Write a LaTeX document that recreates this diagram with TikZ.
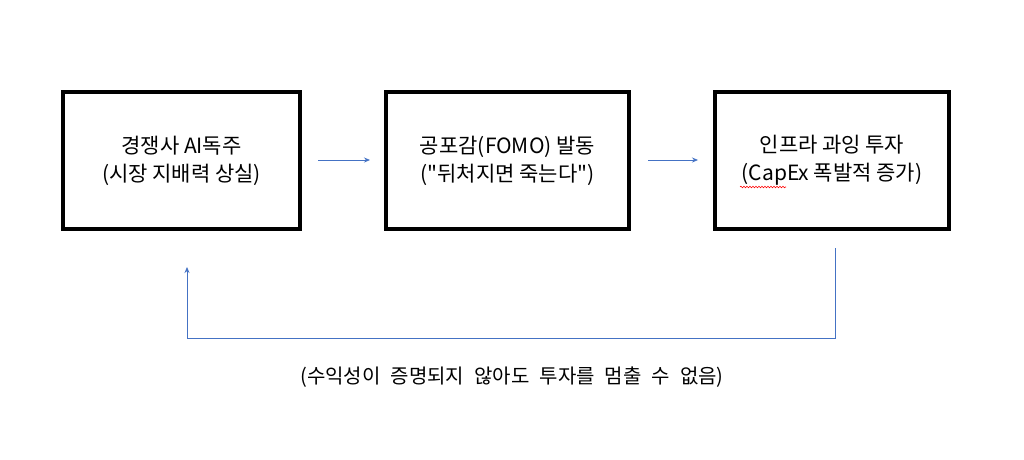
\documentclass[tikz,border=0pt]{standalone}
\usepackage{fontspec}
\setmainfont{Noto Sans CJK KR}[Ligatures=TeXOff]
\usetikzlibrary{arrows.meta,decorations.pathmorphing}
\begin{document}
\begin{tikzpicture}[x=1pt,y=-1pt,
  box/.style={draw=black,line width=4pt,minimum width=#1,minimum height=137pt,align=center,font=\fontsize{21}{28}\selectfont,inner sep=0pt},
  arr/.style={draw={rgb,255:red,68;green,114;blue,196},line width=0.8pt,-{Stealth[length=6pt,width=5pt]}},
  lbl/.style={font=\fontsize{20}{24}\selectfont}]
\useasboundingbox (0,0) rectangle (1024,459);
\fill[white] (0,0) rectangle (1024,459);
\node[box=237pt] (a) at (181.5,160.5) {경쟁사 AI독주\\(시장 지배력 상실)};
\node[box=243pt] (b) at (507.5,160.5) {공포감(FOMO) 발동\\("뒤처지면 죽는다")};
\node[box=234pt] (c) at (832,160.5) {인프라 과잉 투자\\(CapEx 폭발적 증가)};
\coordinate (a1) at (318,160); \coordinate (a2) at (370,160);
\coordinate (b1) at (648,160); \coordinate (b2) at (698,160);
\draw[arr] (a1) -- (a2);
\draw[arr] (b1) -- (b2);
\coordinate (f1) at (835,248); \coordinate (f2) at (835,338);
\coordinate (f3) at (187,338); \coordinate (f4) at (187,267);
\draw[arr] (f1) -- (f2) -- (f3) -- (f4);
\node[lbl] (t) at (512,377) {(수익성이 \;증명되지 \;않아도 \;투자를 \;멈출 \;수 \;없음)};
\draw[red,line width=0.6pt,decorate,decoration={snake,amplitude=0.8pt,segment length=3pt}] (740,187) -- (786,187);
\end{tikzpicture}
\end{document}
